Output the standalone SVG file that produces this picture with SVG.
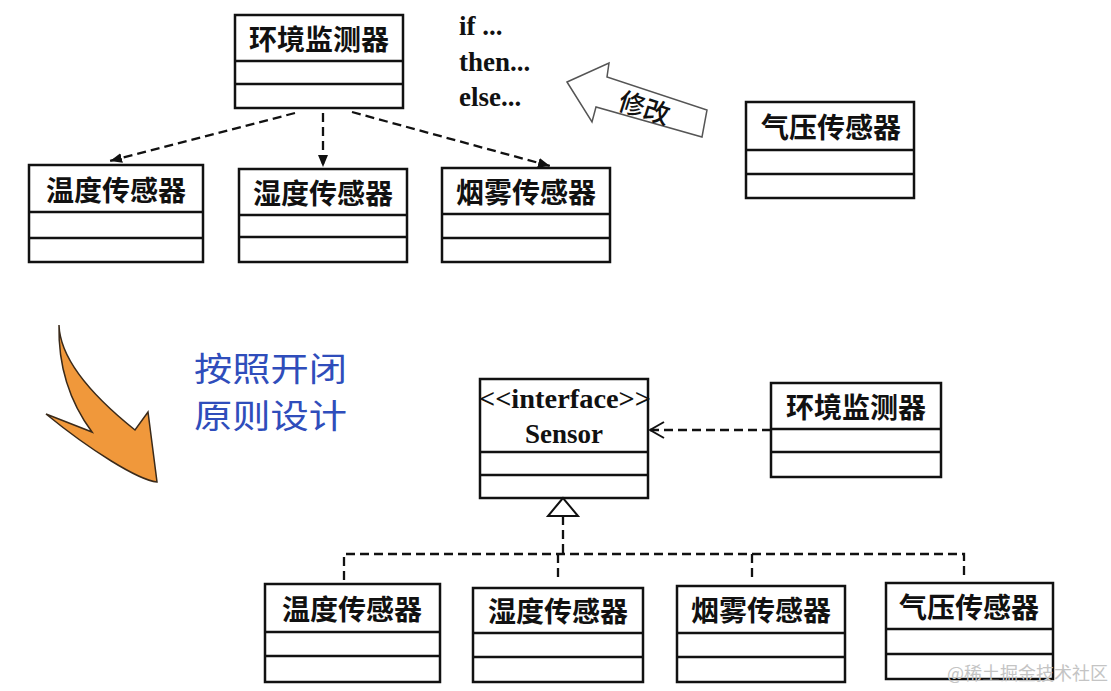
<svg xmlns="http://www.w3.org/2000/svg" width="1111" height="691" viewBox="0 0 1111 691">
<style>
.box{fill:#fff;stroke:#111;stroke-width:2.5}
.div{stroke:#111;stroke-width:2.5}
.cn{font-family:"Noto Sans CJK SC","Noto Sans",sans-serif;font-weight:bold;font-size:28px;fill:#111;text-anchor:middle;dominant-baseline:central}
.ser{font-family:"Liberation Serif",serif;font-weight:bold;font-size:27px;fill:#111}
.dash{fill:none;stroke:#111;stroke-width:2.3;stroke-dasharray:9 5}
.blue{font-family:"Noto Sans CJK SC",sans-serif;font-size:33px;fill:#2f4dbb}
</style>
<defs>
<marker id="fa" markerUnits="userSpaceOnUse" markerWidth="12" markerHeight="10" refX="12" refY="5" orient="auto">
<path d="M0,0 L12,5 L0,10 z" fill="#111"/>
</marker>
<marker id="oa" markerUnits="userSpaceOnUse" markerWidth="16" markerHeight="18" refX="15" refY="9" orient="auto">
<path d="M1,1 L15,9 L1,17" fill="none" stroke="#111" stroke-width="2"/>
</marker>
</defs>

<!-- top section -->
<g id="top-monitor">
<rect class="box" x="235" y="15" width="168" height="93"/>
<line class="div" x1="235" y1="61" x2="403" y2="61"/>
<line class="div" x1="235" y1="84" x2="403" y2="84"/>
<text class="cn" x="319" y="38">环境监测器</text>
</g>
<g id="top-temp">
<rect class="box" x="29" y="165" width="174" height="97"/>
<line class="div" x1="29" y1="212" x2="203" y2="212"/>
<line class="div" x1="29" y1="238" x2="203" y2="238"/>
<text class="cn" x="116" y="189">温度传感器</text>
</g>
<g id="top-humid">
<rect class="box" x="239" y="169" width="168" height="93"/>
<line class="div" x1="239" y1="215" x2="407" y2="215"/>
<line class="div" x1="239" y1="237" x2="407" y2="237"/>
<text class="cn" x="323" y="192">湿度传感器</text>
</g>
<g id="top-smoke">
<rect class="box" x="442" y="168" width="168" height="94"/>
<line class="div" x1="442" y1="214" x2="610" y2="214"/>
<line class="div" x1="442" y1="238" x2="610" y2="238"/>
<text class="cn" x="526" y="191">烟雾传感器</text>
</g>
<g id="top-pressure">
<rect class="box" x="746" y="102" width="168" height="96"/>
<line class="div" x1="746" y1="150" x2="914" y2="150"/>
<line class="div" x1="746" y1="174" x2="914" y2="174"/>
<text class="cn" x="831" y="126">气压传感器</text>
</g>
<g id="code-text">
<text class="ser" x="459" y="35">if ...</text>
<text class="ser" x="459" y="71">then...</text>
<text class="ser" x="459" y="106">else...</text>
</g>
<g id="modify-arrow">
<path d="M567,82 L609,63 L607,77 L707,110 L702,137 L596,107 L592,122 Z" fill="#fff" stroke="#555" stroke-width="1.5" stroke-linejoin="miter"/>
<text x="645" y="106" transform="rotate(18 645 106)" font-family="Noto Sans CJK SC, sans-serif" font-weight="500" font-size="26" fill="#111" text-anchor="middle" dominant-baseline="central">修改</text>
</g>

<!-- transition -->
<g id="orange-arrow">
<path d="M59,325 C60,360 95,398 135,430 L148,412 L157,482 C138,480 90,450 46,414 L92,432 C72,405 58,370 59,325 Z" fill="#f0983b" stroke="#3a2a1a" stroke-width="1.5" stroke-linejoin="miter"/>
</g>
<g id="note">
<text class="blue" x="194" y="381" textLength="153" lengthAdjust="spacingAndGlyphs">按照开闭</text>
<text class="blue" x="194" y="428" textLength="153" lengthAdjust="spacingAndGlyphs">原则设计</text>
</g>

<!-- bottom section -->
<g id="sensor-interface">
<rect class="box" x="480" y="379" width="168" height="119"/>
<line class="div" x1="480" y1="452" x2="648" y2="452"/>
<line class="div" x1="480" y1="475" x2="648" y2="475"/>
<text class="ser" x="565" y="408" text-anchor="middle" textLength="172" lengthAdjust="spacingAndGlyphs">&lt;&lt;interface&gt;&gt;</text>
<text class="ser" x="564" y="443" text-anchor="middle">Sensor</text>
</g>
<g id="bottom-monitor">
<rect class="box" x="771" y="383" width="170" height="94"/>
<line class="div" x1="771" y1="429" x2="941" y2="429"/>
<line class="div" x1="771" y1="452" x2="941" y2="452"/>
<text class="cn" x="856" y="406">环境监测器</text>
</g>
<g id="bottom-temp">
<rect class="box" x="265" y="584" width="175" height="98"/>
<line class="div" x1="265" y1="632" x2="440" y2="632"/>
<line class="div" x1="265" y1="656" x2="440" y2="656"/>
<text class="cn" x="352" y="608">温度传感器</text>
</g>
<g id="bottom-humid">
<rect class="box" x="473" y="588" width="170" height="94"/>
<line class="div" x1="473" y1="633" x2="643" y2="633"/>
<line class="div" x1="473" y1="657" x2="643" y2="657"/>
<text class="cn" x="558" y="610">湿度传感器</text>
</g>
<g id="bottom-smoke">
<rect class="box" x="677" y="586" width="168" height="96"/>
<line class="div" x1="677" y1="633" x2="845" y2="633"/>
<line class="div" x1="677" y1="657" x2="845" y2="657"/>
<text class="cn" x="761" y="609">烟雾传感器</text>
</g>
<g id="bottom-pressure">
<rect class="box" x="886" y="583" width="167" height="96"/>
<line class="div" x1="886" y1="629" x2="1053" y2="629"/>
<line class="div" x1="886" y1="654" x2="1053" y2="654"/>
<text class="cn" x="969" y="606">气压传感器</text>
</g>

<g id="connectors">
<line class="dash" x1="295" y1="113" x2="110" y2="161" marker-end="url(#fa)"/>
<line class="dash" x1="323" y1="113" x2="323" y2="167" marker-end="url(#fa)"/>
<line class="dash" x1="352" y1="112" x2="550" y2="166" marker-end="url(#fa)"/>
<line class="dash" x1="771" y1="430" x2="650" y2="430" marker-end="url(#oa)"/>
<path d="M563,498 L548,516 L578,516 Z" fill="#fff" stroke="#111" stroke-width="2"/>
<path class="dash" d="M563,516 V554"/>
<path class="dash" d="M344,580 V554 H964 V580"/>
<path class="dash" d="M558,554 V580"/>
<path class="dash" d="M752,554 V580"/>
</g>

<text x="947" y="680" font-family="Noto Sans CJK SC, sans-serif" font-size="18" fill="#c4c4c4">@稀土掘金技术社区</text>
</svg>
